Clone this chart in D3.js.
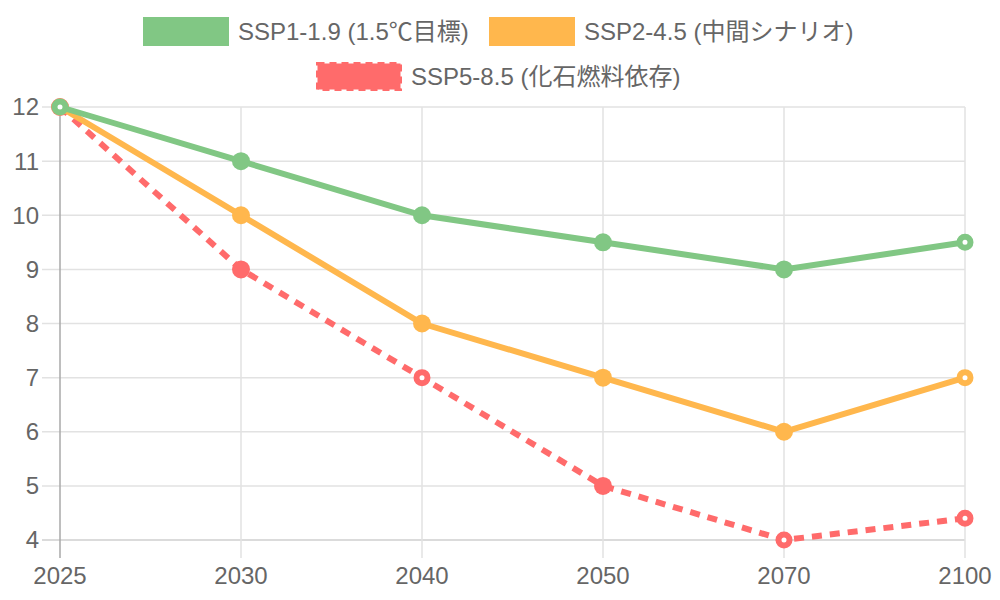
<!DOCTYPE html>
<html>
<head>
<meta charset="utf-8">
<script src="https://cdn.jsdelivr.net/npm/d3@7"></script>
<style>
  body { margin: 0; background: #fff; }
  svg { display: block; font-family: "Liberation Sans", Arial, "Noto Sans CJK JP", sans-serif; }
</style>
</head>
<body>
<svg id="chart"></svg>
<script>
var width = 1000,
    height = 600;

// data
var years = ["2025", "2030", "2040", "2050", "2070", "2100"];
var ssp1 = [12, 11, 10, 9.5, 9, 9.5];
var ssp2 = [12, 10, 8, 7, 6, 7];
var ssp5 = [12, 9, 7, 5, 4, 4.4];
// hollow (ring) markers per point
var ssp1_hollow = [1, 0, 0, 0, 0, 1];
var ssp2_hollow = [1, 0, 0, 0, 0, 1];
var ssp5_hollow = [0, 0, 1, 0, 1, 1];
var yTicks = [4, 5, 6, 7, 8, 9, 10, 11, 12];

var series = [
  { name: "SSP1-1.9 (1.5℃目標)", values: ssp1, hollow: ssp1_hollow, color: "#81c784", dash: null },
  { name: "SSP2-4.5 (中間シナリオ)", values: ssp2, hollow: ssp2_hollow, color: "#ffb74d", dash: null },
  { name: "SSP5-8.5 (化石燃料依存)", values: ssp5, hollow: ssp5_hollow, color: "#ff6b6b", dash: "10,8" }
];

var plotL = 60, plotR = 965, plotT = 107, plotB = 540;

var svg = d3.select("#chart").attr("width", width).attr("height", height);

var x = d3.scalePoint().domain(years).range([plotL, plotR]);
var y = d3.scaleLinear().domain([4, 12]).range([plotB, plotT]);

// grid
var grid = svg.append("g");
grid.selectAll("line.h").data(yTicks).enter().append("line")
  .attr("x1", plotL - 18).attr("x2", plotR)
  .attr("y1", function(d) { return y(d); }).attr("y2", function(d) { return y(d); })
  .attr("stroke", function(d) { return d === 4 ? "#cfcfcf" : "#e2e2e2"; })
  .attr("stroke-width", 1.5);
grid.selectAll("line.v").data(years).enter().append("line")
  .attr("x1", function(d) { return x(d); }).attr("x2", function(d) { return x(d); })
  .attr("y1", plotT).attr("y2", plotB + 18)
  .attr("stroke", function(d, i) { return i === 0 ? "#a8a8a8" : "#e2e2e2"; })
  .attr("stroke-width", 1.5);

// tick labels
svg.append("g").selectAll("text").data(yTicks).enter().append("text")
  .attr("x", 39).attr("y", function(d) { return y(d); })
  .attr("dy", "0.35em").attr("text-anchor", "end")
  .attr("fill", "#666").attr("font-size", 24)
  .text(function(d) { return d; });
svg.append("g").selectAll("text").data(years).enter().append("text")
  .attr("x", function(d) { return x(d); }).attr("y", 584)
  .attr("text-anchor", "middle")
  .attr("fill", "#666").attr("font-size", 24)
  .text(function(d) { return d; });

var line = d3.line()
  .x(function(d, i) { return x(years[i]); })
  .y(function(d) { return y(d); });

// first dataset drawn on top
series.slice().reverse().forEach(function(s) {
  var g = svg.append("g");
  g.append("path")
    .attr("d", line(s.values))
    .attr("fill", "none")
    .attr("stroke", s.color)
    .attr("stroke-width", 6)
    .attr("stroke-dasharray", s.dash);
  g.selectAll("circle").data(s.values).enter().append("circle")
    .attr("cx", function(d, i) { return x(years[i]); })
    .attr("cy", function(d) { return y(d); })
    .attr("r", function(d, i) { return s.hollow[i] ? 5.5 : 9; })
    .attr("fill", function(d, i) { return s.hollow[i] ? "#fff" : s.color; })
    .attr("stroke", s.color)
    .attr("stroke-width", function(d, i) { return s.hollow[i] ? 6 : 0; });
});

// legend
var legendPos = [
  { bx: 143, by: 17 },
  { bx: 489, by: 17 },
  { bx: 316, by: 62 }
];
var legend = svg.append("g");
series.forEach(function(s, i) {
  var p = legendPos[i];
  legend.append("rect")
    .attr("x", p.bx + 1.5).attr("y", p.by + 1.5)
    .attr("width", 83).attr("height", 26)
    .attr("fill", s.color)
    .attr("stroke", s.color)
    .attr("stroke-width", 3)
    .attr("stroke-dasharray", s.dash ? "7,5" : null);
  legend.append("text")
    .attr("x", p.bx + 95).attr("y", p.by + 15)
    .attr("dy", "0.35em")
    .attr("fill", "#666").attr("font-size", 24)
    .text(s.name);
});
</script>
</body>
</html>
